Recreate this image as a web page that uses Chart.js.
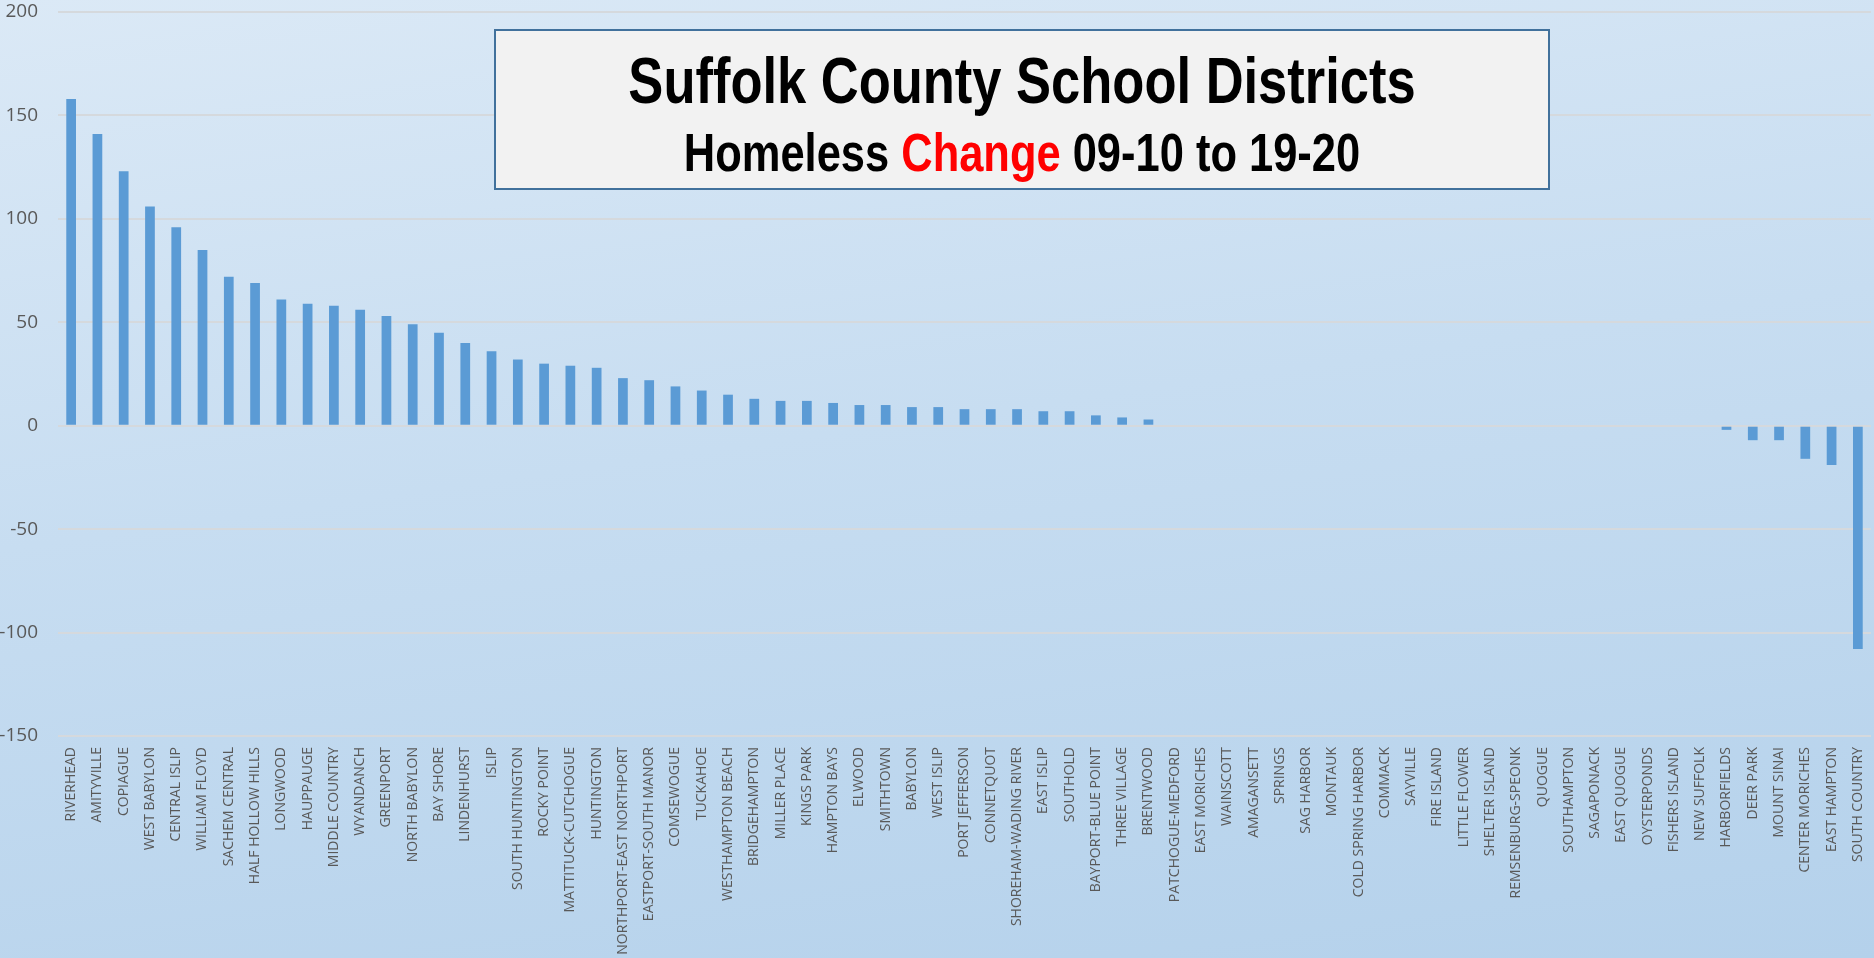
<!DOCTYPE html>
<html>
<head>
<meta charset="utf-8">
<script src="https://cdn.jsdelivr.net/npm/chart.js@4.4.1/dist/chart.umd.min.js"></script>
<style>
  body {
    margin: 0;
    width: 1874px;
    height: 958px;
    overflow: hidden;
    position: relative;
    background: linear-gradient(172deg, #dbe9f6 0%, #c7ddf1 45%, #b4d1eb 100%);
  }
  #barChart { position: absolute; left: 0; top: 0; }
  #titleBox {
    position: absolute;
    left: 494px; top: 29px;
    width: 1052px; height: 157px;
    background: #f2f2f2;
    border: 2px solid #41719c;
    text-align: center;
    font-family: "Liberation Sans Narrow", "Arial Narrow", "Liberation Sans", sans-serif;
    font-weight: bold;
    color: #000;
  }
  #titleBox .t1, #titleBox .t2 { position: absolute; left: 0; right: 0; transform: scaleX(0.82); transform-origin: 50% 50%; }
  #titleBox .t1 { top: 14px; font-size: 64px; line-height: 72px; }
  #titleBox .t2 { top: 91px; font-size: 53px; line-height: 62px; }
  #titleBox .red { color: #ff0000; }
</style>
</head>
<body>
<canvas id="barChart" width="1874" height="958"></canvas>
<div id="titleBox">
  <div class="t1">Suffolk County School Districts</div>
  <div class="t2">Homeless <span class="red">Change</span> 09-10 to 19-20</div>
</div>
<script>
// homeless change per district, 09-10 to 19-20
var districts = [
  'RIVERHEAD', 'AMITYVILLE', 'COPIAGUE', 'WEST BABYLON', 'CENTRAL ISLIP', 'WILLIAM FLOYD',
  'SACHEM CENTRAL', 'HALF HOLLOW HILLS', 'LONGWOOD', 'HAUPPAUGE', 'MIDDLE COUNTRY', 'WYANDANCH',
  'GREENPORT', 'NORTH BABYLON', 'BAY SHORE', 'LINDENHURST', 'ISLIP', 'SOUTH HUNTINGTON',
  'ROCKY POINT', 'MATTITUCK-CUTCHOGUE', 'HUNTINGTON', 'NORTHPORT-EAST NORTHPORT', 'EASTPORT-SOUTH MANOR', 'COMSEWOGUE',
  'TUCKAHOE', 'WESTHAMPTON BEACH', 'BRIDGEHAMPTON', 'MILLER PLACE', 'KINGS PARK', 'HAMPTON BAYS',
  'ELWOOD', 'SMITHTOWN', 'BABYLON', 'WEST ISLIP', 'PORT JEFFERSON', 'CONNETQUOT',
  'SHOREHAM-WADING RIVER', 'EAST ISLIP', 'SOUTHOLD', 'BAYPORT-BLUE POINT', 'THREE VILLAGE', 'BRENTWOOD',
  'PATCHOGUE-MEDFORD', 'EAST MORICHES', 'WAINSCOTT', 'AMAGANSETT', 'SPRINGS', 'SAG HARBOR',
  'MONTAUK', 'COLD SPRING HARBOR', 'COMMACK', 'SAYVILLE', 'FIRE ISLAND', 'LITTLE FLOWER',
  'SHELTER ISLAND', 'REMSENBURG-SPEONK', 'QUOGUE', 'SOUTHAMPTON', 'SAGAPONACK', 'EAST QUOGUE',
  'OYSTERPONDS', 'FISHERS ISLAND', 'NEW SUFFOLK', 'HARBORFIELDS', 'DEER PARK', 'MOUNT SINAI',
  'CENTER MORICHES', 'EAST HAMPTON', 'SOUTH COUNTRY'
];

var homelessChange = [
  158, 141, 123, 106, 96, 85,
  72, 69, 61, 59, 58, 56,
  53, 49, 45, 40, 36, 32,
  30, 29, 28, 23, 22, 19,
  17, 15, 13, 12, 12, 11,
  10, 10, 9, 9, 8, 8,
  8, 7, 7, 5, 4, 3,
  0, 0, 0, 0, 0, 0,
  0, 0, 0, 0, 0, 0,
  0, 0, 0, 0, 0, 0,
  0, 0, 0, -2, -7, -7,
  -16, -19, -108
];

var yTicks = [-150, -100, -50, 0, 50, 100, 150, 200];

var gridColor = '#d5d9dd';
var tickColor = '#595959';

var ctx = document.getElementById('barChart').getContext('2d');
var myChart = new Chart(ctx, {
  type: 'bar',
  data: {
    labels: districts,
    datasets: [{
      data: homelessChange,
      backgroundColor: '#5b9bd5',
      borderWidth: 0,
      barPercentage: 0.37,
      categoryPercentage: 1
    }]
  },
  options: {
    responsive: false,
    animation: false,
    layout: { padding: { top: 12, right: 3, left: 0, bottom: 0 } },
    plugins: {
      legend: { display: false },
      tooltip: { enabled: false },
      title: { display: false }
    },
    scales: {
      x: {
        grid: { display: false, drawTicks: false },
        border: { display: false },
        ticks: {
          autoSkip: false,
          minRotation: 90,
          maxRotation: 90,
          padding: 11,
          color: tickColor,
          font: { family: 'Open Sans', size: 14 }
        },
        afterFit: function(scale) {
          scale.height = 222;
          scale.paddingLeft = 0;
          scale.paddingRight = 0;
        }
      },
      y: {
        min: yTicks[0],
        max: yTicks[yTicks.length - 1],
        grid: { color: gridColor, lineWidth: 2, drawTicks: false },
        border: { display: false },
        ticks: {
          stepSize: 50,
          padding: 20,
          color: tickColor,
          font: { family: 'Open Sans', size: 19 }
        },
        afterFit: function(scale) {
          scale.width = 58;
          scale.paddingTop = 0;
          scale.paddingBottom = 0;
        }
      }
    }
  }
});
</script>
</body>
</html>
